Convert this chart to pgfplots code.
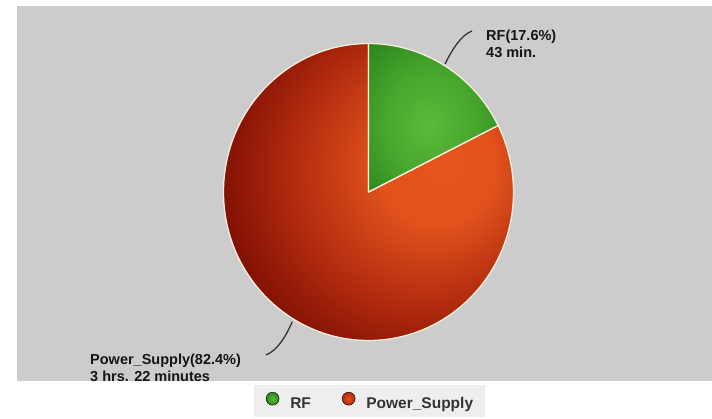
\documentclass[border=0pt]{standalone}
\usepackage{pgfplots}
\usepackage{pgfplotstable}
\usepackage{fontspec}
\setmainfont{Liberation Sans}
\pgfplotsset{compat=1.18}

\definecolor{bggray}{HTML}{CCCCCC}
\definecolor{legendgray}{HTML}{EEEEEE}
\definecolor{rfdark}{HTML}{2A851C}
\definecolor{rflight}{HTML}{5ABB39}
\definecolor{psdark}{HTML}{6E0600}
\definecolor{psmid}{HTML}{B02A0E}
\definecolor{pslight}{HTML}{E5551D}
\definecolor{pieedge}{HTML}{F4F0DC}
\definecolor{labeltext}{HTML}{151515}
\definecolor{legendtext}{HTML}{333333}

% share of total time, percent
\pgfplotstableread{
label share
RF    17.6
PS    82.4
}\piedata

% light spot of each slice sits off the bounding box centre
\pgfdeclareradialshading{rfshade}{\pgfpoint{-2bp}{-3bp}}{%
  color(0bp)=(rflight); color(18bp)=(rflight!60!rfdark); color(36bp)=(rfdark); color(60bp)=(rfdark)}
\pgfdeclareradialshading{psshade}{\pgfpoint{14bp}{5bp}}{%
  color(0bp)=(pslight); color(10bp)=(pslight!92!psmid); color(23bp)=(psmid); color(37bp)=(psdark); color(70bp)=(psdark)}

\newcommand\lab{\fontsize{14.5}{17}\selectfont\bfseries}

\begin{document}
\begin{tikzpicture}
\pgfplotstablegetelem{0}{share}\of\piedata
\pgfmathsetmacro{\rfend}{90-3.6*\pgfplotsretval}
\pgfmathsetmacro{\psend}{\rfend+360}

\begin{axis}[
  x=1pt, y=1pt,
  xmin=0, xmax=712, ymin=0, ymax=418,
  y dir=reverse,
  hide axis, clip=false,
  legend columns=2,
  legend cell align=left,
  legend style={
    at={(axis cs:369.5,401)}, anchor=center,
    fill=legendgray, draw=none,
    inner xsep=12pt, inner ysep=7pt,
    nodes={inner sep=0pt, text=legendtext},
    font=\fontsize{15.5}{18}\selectfont\bfseries,
    /tikz/every odd column/.append style={column sep=11pt},
    /tikz/every even column/.append style={column sep=31pt},
  },
]
\fill[white] (axis cs:0,0) rectangle (axis cs:712,418);
\fill[bggray] (axis cs:17,6) rectangle (axis cs:712,380.5);

% pie, centre (368.5,192)
\shadedraw[shading=psshade, draw=pieedge, line width=1.3pt, line join=round]
  (axis cs:368.5,192) -- (axis cs:368.5,43.5)
  arc[start angle=90, end angle=\psend, x radius=145pt, y radius=148.5pt] -- cycle;
\shadedraw[shading=rfshade, draw=pieedge, line width=1.3pt, line join=round]
  (axis cs:368.5,192) -- (axis cs:368.5,43.5)
  arc[start angle=90, end angle=\rfend, x radius=145pt, y radius=148.5pt] -- cycle;

% leader lines
\draw[legendtext, line width=1.3pt] (axis cs:445,64) .. controls (axis cs:452,50) and (axis cs:461,35) .. (axis cs:472,31);
\draw[legendtext, line width=1.3pt] (axis cs:292.3,321.7) .. controls (axis cs:286,336) and (axis cs:278,350) .. (axis cs:266,355);

% slice labels
\node[anchor=base west, font=\lab, text=labeltext, inner sep=0pt] at (axis cs:486,40) {RF(17.6\%)};
\node[anchor=base west, font=\lab, text=labeltext, inner sep=0pt] at (axis cs:486,57.4) {43 min.};
\node[anchor=base west, font=\lab, text=labeltext, inner sep=0pt] at (axis cs:90,364.3) {Power\_Supply(82.4\%)};
\node[anchor=base west, font=\lab, text=labeltext, inner sep=0pt] at (axis cs:90,381.7) {3 hrs. 22 minutes};

\addlegendimage{legend image code/.code={\shade[inner color=rflight, outer color=rfdark] (6.5pt,0.5em) circle (6.5pt);}}
\addlegendentry{RF}
\addlegendimage{legend image code/.code={\shade[inner color=pslight, outer color=psmid] (6.5pt,0.5em) circle (6.5pt);}}
\addlegendentry{Power\_Supply}
\end{axis}
\end{tikzpicture}
\end{document}
